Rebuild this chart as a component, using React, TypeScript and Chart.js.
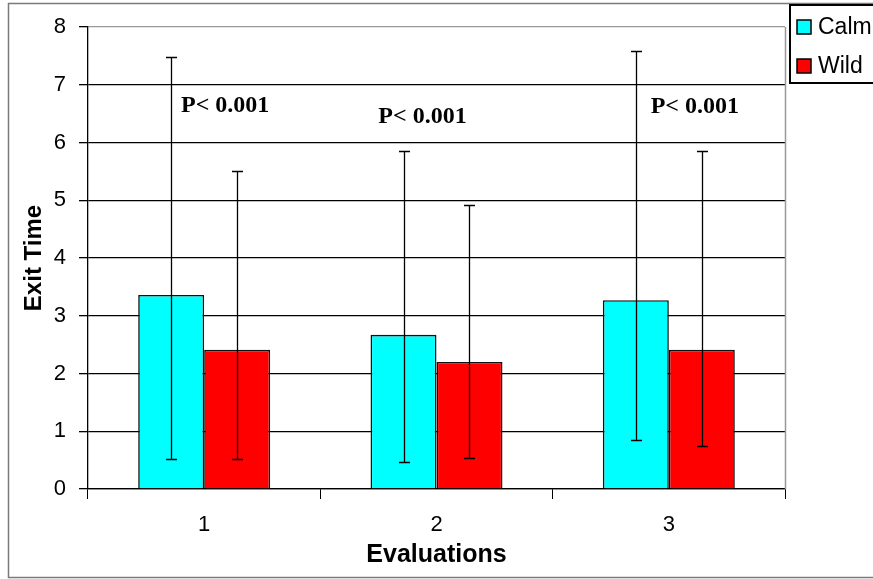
import React, { useEffect, useRef } from "react";
import { Chart, registerables } from "chart.js";

Chart.register(...registerables);

// ---- data ----
const categories = ["1", "2", "3"];
const seriesNames = ["Calm", "Wild"];
const calmMeans = [3.36, 2.67, 3.27];
const wildMeans = [2.41, 2.2, 2.41];
const calmUpper = [7.48, 5.85, 7.58];
const calmLower = [0.52, 0.46, 0.84];
const wildUpper = [5.51, 4.92, 5.85];
const wildLower = [0.52, 0.53, 0.74];
const yTicks = [0, 1, 2, 3, 4, 5, 6, 7, 8];
const pLabels = ["P< 0.001", "P< 0.001", "P< 0.001"];
const pLabelValue = [6.63, 6.44, 6.61];
const pLabelShift = [21, -14, 26];

const errorBarPlugin = {
  id: "errorBars",
  afterDatasetsDraw(chart: any) {
    const ctx = chart.ctx;
    const y = chart.scales.y;
    const uppers = [calmUpper, wildUpper];
    const lowers = [calmLower, wildLower];
    ctx.save();
    ctx.strokeStyle = "#000";
    ctx.lineWidth = 1.3;
    chart.data.datasets.forEach((_: any, di: number) => {
      const meta = chart.getDatasetMeta(di);
      meta.data.forEach((bar: any, i: number) => {
        const x = Math.round(bar.x) + 0.5;
        const yt = Math.round(y.getPixelForValue(uppers[di][i])) + 0.5;
        const yb = Math.round(y.getPixelForValue(lowers[di][i])) + 0.5;
        ctx.beginPath();
        ctx.moveTo(x, yt);
        ctx.lineTo(x, yb);
        ctx.moveTo(x - 5.5, yt);
        ctx.lineTo(x + 5.5, yt);
        ctx.moveTo(x - 5.5, yb);
        ctx.lineTo(x + 5.5, yb);
        ctx.stroke();
      });
    });
    // p-value annotations
    const xs = chart.scales.x;
    ctx.fillStyle = "#000";
    ctx.font = "bold 24px 'Liberation Serif', 'Times New Roman', serif";
    ctx.textAlign = "center";
    ctx.textBaseline = "middle";
    pLabels.forEach((t, i) => {
      ctx.fillText(t, xs.getPixelForValue(i) + pLabelShift[i], y.getPixelForValue(pLabelValue[i]));
    });
    ctx.restore();
  },
};

const framePlugin = {
  id: "frame",
  afterDraw(chart: any) {
    const ctx = chart.ctx;
    const a = chart.chartArea;
    ctx.save();
    // plot area right border
    ctx.strokeStyle = "#999";
    ctx.lineWidth = 1.5;
    ctx.beginPath();
    ctx.moveTo(Math.round(a.right) + 0.5, a.top);
    ctx.lineTo(Math.round(a.right) + 0.5, a.bottom);
    ctx.stroke();
    // outer border
    ctx.strokeStyle = "#7a7a7a";
    ctx.lineWidth = 1.5;
    ctx.strokeRect(8.5, 3.5, 872, 574);
    // legend
    const lx = 789;
    const ly = 4;
    ctx.fillStyle = "#fff";
    ctx.fillRect(lx, ly, 90, 79);
    ctx.strokeStyle = "#000";
    ctx.lineWidth = 2;
    ctx.strokeRect(lx + 1, ly + 1, 90, 78);
    const rows = [27, 66];
    ctx.font = "23px 'Liberation Sans', Arial, sans-serif";
    ctx.textAlign = "left";
    ctx.textBaseline = "middle";
    chart.data.datasets.forEach((ds: any, i: number) => {
      ctx.fillStyle = ds.backgroundColor;
      ctx.fillRect(797, rows[i] - 7, 14, 14);
      ctx.lineWidth = 1.5;
      ctx.strokeStyle = "#000";
      ctx.strokeRect(797, rows[i] - 7, 14, 14);
      ctx.fillStyle = "#000";
      ctx.fillText(ds.label, 818, rows[i] + 1);
    });
    ctx.restore();
  },
};

export default function App() {
  const ref = useRef<HTMLCanvasElement>(null);
  useEffect(() => {
    if (!ref.current) return;
    const chart = new Chart(ref.current, {
      type: "bar",
      data: {
        labels: categories,
        datasets: [
          {
            label: seriesNames[0],
            data: calmMeans,
            backgroundColor: "#00FFFF",
            borderColor: "#111",
            borderWidth: 1.6,
          },
          {
            label: seriesNames[1],
            data: wildMeans,
            backgroundColor: "#FF0000",
            borderColor: "#111",
            borderWidth: 1.6,
          },
        ],
      },
      options: {
        responsive: false,
        animation: false,
        layout: { padding: { top: 27, right: 88, left: 0, bottom: 0 } },
        datasets: { bar: { categoryPercentage: 0.568, barPercentage: 1 } },
        plugins: { legend: { display: false }, tooltip: { enabled: false } },
        scales: {
          x: {
            afterFit: (s: any) => {
              s.height = 90;
            },
            grid: {
              offset: true,
              drawOnChartArea: false,
              color: "#000",
              tickLength: 10,
            },
            border: { color: "#000", width: 1.3 },
            ticks: {
              color: "#000",
              padding: 13,
              font: { size: 22, family: "'Liberation Sans', Arial, sans-serif" },
            },
            title: {
              display: true,
              text: "Evaluations",
              color: "#000",
              font: { size: 25, weight: "bold", family: "'Liberation Sans', Arial, sans-serif" },
              padding: { top: 9, bottom: 9 },
            },
          },
          y: {
            min: 0,
            max: 8,
            afterFit: (s: any) => {
              s.width = 88;
            },
            afterBuildTicks: (s: any) => {
              s.ticks = yTicks.map((v) => ({ value: v }));
            },
            grid: {
              color: (c: any) => (c.tick && c.tick.value === 8 ? "#999" : "#000"),
              tickColor: "#000",
              tickLength: 9,
              lineWidth: 1.3,
            },
            border: { color: "#000", width: 1.3 },
            ticks: {
              color: "#000",
              padding: 13,
              font: { size: 22, family: "'Liberation Sans', Arial, sans-serif" },
            },
            title: {
              display: true,
              text: "Exit Time",
              color: "#000",
              font: { size: 24, weight: "bold", family: "'Liberation Sans', Arial, sans-serif" },
              padding: { top: 20, bottom: 20 },
            },
          },
        },
      },
      plugins: [errorBarPlugin, framePlugin],
    } as any);
    return () => chart.destroy();
  }, []);
  return (
    <canvas
      ref={ref}
      width={873}
      height={579}
      style={{ position: "fixed", left: 0, top: 0, width: 873, height: 579, background: "#fff" }}
    />
  );
}
